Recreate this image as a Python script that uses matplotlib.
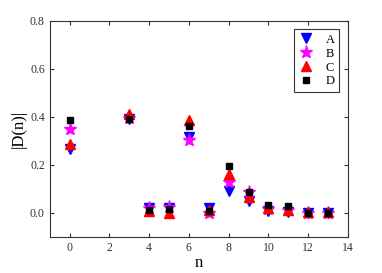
import numpy as np
import matplotlib

matplotlib.use("Agg")
import matplotlib.pyplot as plt
from matplotlib import rcParams

rcParams.update({
    "font.family": "serif",
    "font.serif": ["Liberation Serif", "DejaVu Serif"],
    "xtick.direction": "in", "ytick.direction": "in",
    "xtick.top": True, "ytick.right": True,
})

n = [0, 3, 4, 5, 6, 7, 8, 9, 10, 11, 12, 13]
d_a = [0.265, 0.39, 0.02, 0.02, 0.315, 0.02, 0.09, 0.05, 0.005, 0.003, -0.003, 0.0]
d_b = [0.35, 0.395, 0.02, 0.025, 0.305, 0.0, 0.13, 0.085, 0.015, 0.012, 0.0, 0.0]
d_c = [0.285, 0.41, 0.005, 0.0, 0.385, 0.01, 0.16, 0.065, 0.02, 0.01, 0.003, 0.003]
d_d = [0.385, 0.39, 0.01, 0.015, 0.36, 0.005, 0.195, 0.085, 0.03, 0.028, 0.0, 0.0]

fig = plt.figure(figsize=(3.82, 2.73), dpi=100)
ax = fig.add_axes([0.130, 0.133, 0.781, 0.791])

ax.plot(n, d_a, "v", color="blue", ms=7.5, ls="none", label="A")
ax.plot(n, d_b, "*", color="magenta", ms=9.5, ls="none", label="B")
ax.plot(n, d_c, "^", color="red", ms=7.5, ls="none", label="C")
ax.plot(n, d_d, "s", color="black", ms=5, ls="none", label="D")

ax.set_xlim(-1, 14)
ax.set_ylim(-0.1, 0.8)
ax.set_xticks(np.arange(0, 15, 2))
ax.set_yticks(np.arange(0, 0.81, 0.2))
ax.set_yticklabels([f"{v:.1f}" for v in np.arange(0, 0.81, 0.2)])
ax.tick_params(labelsize=8.5, colors="#333333", length=3, width=0.8)
for s in ax.spines.values():
    s.set_color("#333333")
    s.set_linewidth(0.8)

ax.set_xlabel("n", fontsize=12, labelpad=1)
ax.set_ylabel("|D(n)|", fontsize=12, labelpad=2)

leg = ax.legend(loc="upper right", fontsize=9, fancybox=False, framealpha=1,
                edgecolor="#333333", handletextpad=1.0, borderpad=0.35,
                labelspacing=0.15, handlelength=1.2, borderaxespad=0.7)
leg.get_frame().set_linewidth(0.8)

fig.savefig("out.png", dpi=100)
